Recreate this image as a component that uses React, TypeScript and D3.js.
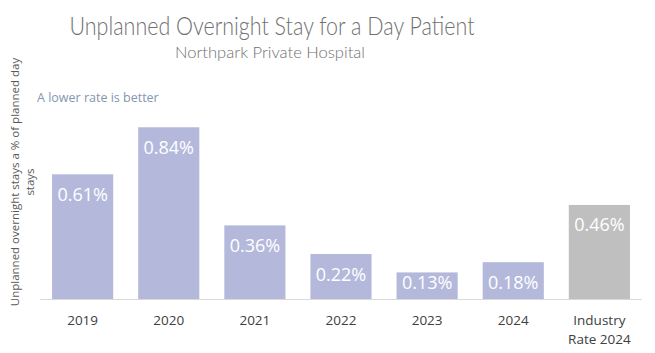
import { useEffect, useRef } from "react";
import * as d3 from "d3";

const categories = ["2019", "2020", "2021", "2022", "2023", "2024", "Industry Rate 2024"];
const rates = [0.61, 0.84, 0.36, 0.22, 0.13, 0.18, 0.46];
const isIndustry = [false, false, false, false, false, false, true];
const title = "Unplanned Overnight Stay for a Day Patient";
const subtitle = "Northpark Private Hospital";
const note = "A lower rate is better";
const yLabelLines = ["Unplanned overnight stays a % of planned day", "stays"];

const App = () => {
  const ref = useRef<SVGSVGElement | null>(null);

  useEffect(() => {
    const svg = d3.select(ref.current);
    svg.selectAll("*").remove();

    const width = 655;
    const baseY = 299;
    const left = 40;
    const right = 642;

    const x = d3.scaleBand().domain(categories).range([left, right]).paddingInner(0.29).paddingOuter(0.14);
    const y = d3.scaleLinear().domain([0, 0.9]).range([baseY, baseY - 184]);

    svg.append("rect").attr("width", width).attr("height", 353).attr("fill", "#ffffff");

    svg.append("text")
      .attr("x", 272).attr("y", 35)
      .attr("text-anchor", "middle")
      .attr("font-family", "Lato, 'Open Sans', sans-serif")
      .attr("font-weight", 300)
      .attr("font-size", 26)
      .attr("fill", "#707070")
      .attr("textLength", 405)
      .attr("lengthAdjust", "spacingAndGlyphs")
      .text(title);

    svg.append("text")
      .attr("x", 270).attr("y", 58)
      .attr("text-anchor", "middle")
      .attr("font-family", "Lato, 'Open Sans', sans-serif")
      .attr("font-weight", 300)
      .attr("font-size", 16)
      .attr("fill", "#707070")
      .attr("textLength", 190)
      .attr("lengthAdjust", "spacingAndGlyphs")
      .text(subtitle);

    svg.append("text")
      .attr("x", 37).attr("y", 102)
      .attr("font-family", "'Open Sans', sans-serif")
      .attr("font-size", 12.5)
      .attr("fill", "#8496b0")
      .text(note);

    yLabelLines.forEach((line, i) => {
      svg.append("text")
        .attr("transform", `translate(${19 + i * 15},182) rotate(-90)`)
        .attr("text-anchor", "middle")
        .attr("font-family", "'Open Sans', sans-serif")
        .attr("font-size", 11.5)
        .attr("fill", "#595959")
        .text(line);
    });

    const g = svg.append("g");
    g.selectAll("rect.bar")
      .data(rates)
      .join("rect")
      .attr("class", "bar")
      .attr("x", (_, i) => x(categories[i])!)
      .attr("y", (d) => y(d))
      .attr("width", x.bandwidth())
      .attr("height", (d) => baseY - y(d))
      .attr("fill", (_, i) => (isIndustry[i] ? "#bfbfbf" : "#b4b9dc"));

    g.selectAll("text.val")
      .data(rates)
      .join("text")
      .attr("class", "val")
      .attr("x", (_, i) => x(categories[i])! + x.bandwidth() / 2)
      .attr("y", (d) => Math.min(y(d) + 20, baseY - 17) + 6.5)
      .attr("text-anchor", "middle")
      .attr("font-family", "'Open Sans', sans-serif")
      .attr("font-size", 18)
      .attr("fill", "#ffffff")
      .text((d) => `${d.toFixed(2)}%`);

    svg.append("line")
      .attr("x1", left).attr("x2", right)
      .attr("y1", baseY + 0.5).attr("y2", baseY + 0.5)
      .attr("stroke", "#d9d9d9").attr("stroke-width", 1);

    categories.forEach((c) => {
      const lines = c.startsWith("Industry") ? ["Industry", "Rate 2024"] : [c];
      lines.forEach((l, j) => {
        svg.append("text")
          .attr("x", x(c)! + x.bandwidth() / 2)
          .attr("y", 325 + j * 19)
          .attr("text-anchor", "middle")
          .attr("font-family", "'Open Sans', sans-serif")
          .attr("font-size", 13.5)
          .attr("fill", "#404040")
          .text(l);
      });
    });
  }, []);

  return <svg ref={ref} width={655} height={353} style={{ display: "block", position: "absolute", left: 0, top: 0 }} />;
};

export default App;
